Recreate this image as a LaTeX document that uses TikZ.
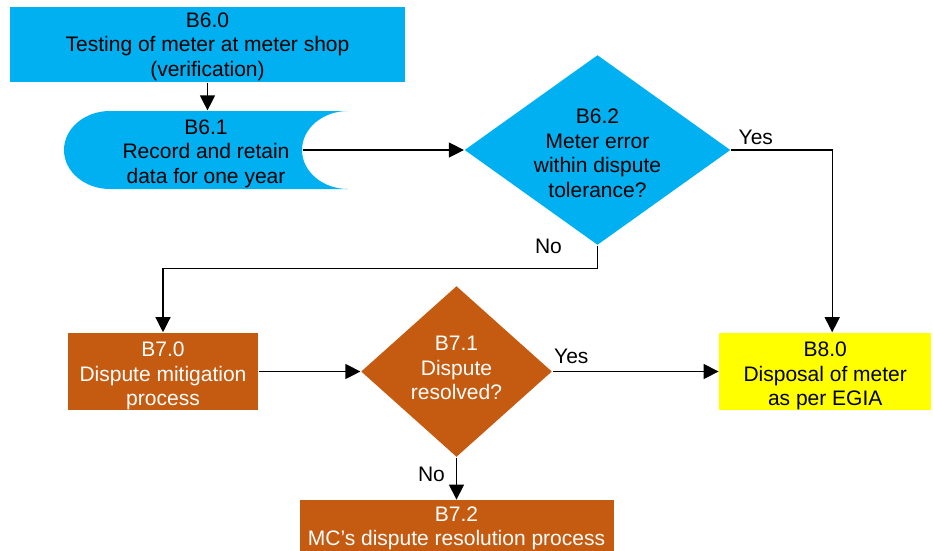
\documentclass[tikz,border=0pt]{standalone}
\usepackage{fontspec}
\setmainfont{Liberation Sans}
\usetikzlibrary{arrows.meta,shapes,positioning,calc}
\usepackage{xcolor}
\definecolor{meterblue}{HTML}{00B0F0}
\definecolor{disputebrown}{HTML}{C55A11}
\definecolor{egiayellow}{HTML}{FFFF00}
% strut to push a node text down / up
\newcommand{\textdrop}[1]{\rule{0pt}{#1pt}}
\newcommand{\textlift}[1]{\rule[-#1pt]{0pt}{0pt}}

\begin{document}
\begin{tikzpicture}[x=1pt, y=-1pt, >={Triangle[length=15pt,width=15pt]}, line width=1.2pt,
        every node/.style={font=\fontsize{21}{24.5}\selectfont},
        block/.style={rectangle, inner sep=0pt, align=center},
        decision/.style={diamond, aspect=1.4, inner sep=-10pt, align=center},
        store/.style={rectangle, inner sep=0pt, align=center, minimum width=284pt, minimum height=78pt,
            path picture={\fill[meterblue] (path picture bounding box.north east)
                arc[start angle=90, end angle=270, x radius=46pt, y radius=39pt]
                -- ([xshift=46pt]path picture bounding box.south west)
                arc[start angle=270, end angle=90, x radius=46pt, y radius=39pt] -- cycle;}},
        lbl/.style={inner sep=0pt}]

        \useasboundingbox (0,0) rectangle (933,550);

        \node [block, fill=meterblue, minimum width=395pt, minimum height=75pt] (b60) at (207.5,44.5)
            {\textdrop{19}B6.0\\Testing of meter at meter shop\\(verification)};
        \node [store] (b61) at (206,150) {\textdrop{22}B6.1\\Record and retain\\data for one year};
        \node [decision, fill=meterblue, minimum width=266pt, minimum height=190pt] (b62) at (597.5,150)
            {\textdrop{21}B6.2\\Meter error\\within dispute\\tolerance?};

        \node [block, fill=disputebrown, text=white, minimum width=190pt, minimum height=75pt] (b70) at (163,371.5)
            {\textdrop{24}B7.0\\Dispute mitigation\\process};
        \node [decision, aspect=1.12, fill=disputebrown, text=white, minimum width=191pt, minimum height=171pt] (b71) at (456.5,371.5)
            {B7.1\\Dispute\\resolved?\textlift{7}};
        \node [block, fill=egiayellow, minimum width=212pt, minimum height=76pt, right=166pt of b71] (b80)
            {\textdrop{24}B8.0\\Disposal of meter\\as per EGIA};
        \node [block, fill=disputebrown, text=white, minimum width=314pt, minimum height=53pt, below=42pt of b71] (b72)
            {\textdrop{18}B7.2\\MC’s dispute resolution process};

        % yes / no labels
        \node [lbl, anchor=base west] (yes62) at ([xshift=7pt,yshift=5.5pt]b62.east) {Yes};
        \node [lbl, anchor=base east] (no62) at ([xshift=-35pt,yshift=-7.5pt]b62.south) {No};
        \node [lbl, anchor=base west] (yes71) at ([xshift=1pt,yshift=8.5pt]b71.east) {Yes};
        \node [lbl, anchor=base east] (no71) at ([xshift=-11pt,yshift=-23.5pt]b71.south) {No};

        \draw[->] (b60.south) -- (b60.south |- b61.north);
        \draw[->] ([xshift=-46pt]b61.east) -- (b62.west);
        \draw[->] (b62.east) -| ([xshift=7pt]b80.north);
        \draw[->] (b62.south) -- ++(0pt,-23pt) -| (b70.north);
        \draw[->] (b70.east) -- (b71.west);
        \draw[->] (b71.east) -- (b80.west);
        \draw[->] (b71.south) -- (b72.north);
    \end{tikzpicture}
\end{document}
